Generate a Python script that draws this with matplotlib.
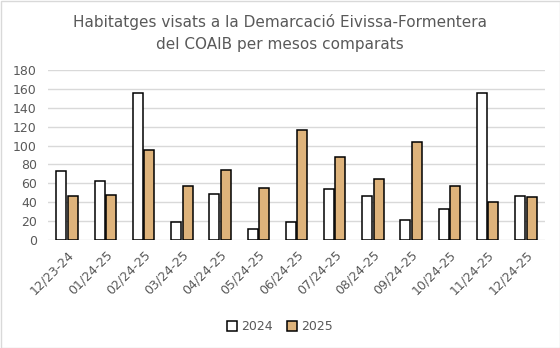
import numpy as np
import matplotlib.pyplot as plt
from matplotlib.patches import Rectangle

# mesos comparats
categories = ['12/23-24', '01/24-25', '02/24-25', '03/24-25', '04/24-25', '05/24-25',
              '06/24-25', '07/24-25', '08/24-25', '09/24-25', '10/24-25', '11/24-25', '12/24-25']
vals_2024 = [73, 62, 156, 19, 49, 12, 19, 54, 47, 21, 33, 156, 47]
vals_2025 = [47, 48, 95, 57, 74, 55, 117, 88, 65, 104, 57, 40, 46]
yticks = [0, 20, 40, 60, 80, 100, 120, 140, 160, 180]

text_col = '#595959'
gold = '#DEB37B'

fig = plt.figure(figsize=(5.6, 3.48), dpi=100)
ax = fig.add_axes([48 / 560, 1 - 240 / 348, 497 / 560, 170 / 348])

x = np.arange(len(categories))
w = 0.26
ax.bar(x - 0.15, vals_2024, width=w, color='white', edgecolor='black', linewidth=1.1, label='2024', zorder=3)
ax.bar(x + 0.15, vals_2025, width=w, color=gold, edgecolor='black', linewidth=1.1, label='2025', zorder=3)

ax.set_xlim(-0.5, len(categories) - 0.5)
ax.set_ylim(0, 180)
ax.set_yticks(yticks)
ax.set_xticks(x)
ax.set_xticklabels(categories, rotation=45, ha='right', rotation_mode='anchor')
ax.tick_params(axis='both', length=0, colors=text_col, labelsize=9)
ax.tick_params(axis='y', pad=8)
ax.tick_params(axis='x', pad=6)
ax.grid(axis='y', color='#D9D9D9', linewidth=1, zorder=0)
for s in ax.spines.values():
    s.set_visible(False)

fig.text(0.5, 1 - 22 / 348, 'Habitatges visats a la Demarcació Eivissa-Formentera',
         ha='center', va='center', fontsize=11, color=text_col)
fig.text(0.5, 1 - 45 / 348, 'del COAIB per mesos comparats',
         ha='center', va='center', fontsize=11, color=text_col)

leg = fig.legend(loc='center', bbox_to_anchor=(0.5, 1 - 327 / 348), ncol=2, frameon=False,
                 fontsize=9, handlelength=0.8, handleheight=0.8, handletextpad=0.3, columnspacing=1.2)
for t in leg.get_texts():
    t.set_color(text_col)

fig.patches.append(Rectangle((0.5 / 560, 0.5 / 348), 1 - 1 / 560, 1 - 1 / 348, transform=fig.transFigure,
                             fill=False, edgecolor='#D9D9D9', linewidth=1))

fig.savefig('out.png', dpi=100)
